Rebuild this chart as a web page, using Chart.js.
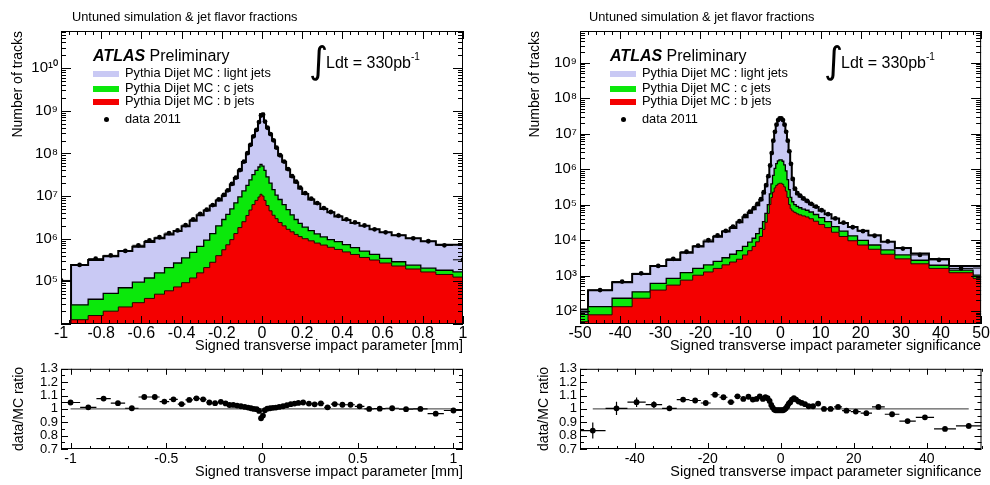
<!DOCTYPE html>
<html>
<head>
<meta charset="utf-8">
<script src="https://cdn.jsdelivr.net/npm/chart.js@4.4.1/dist/chart.umd.min.js"></script>
<style>
  html, body { margin: 0; padding: 0; background: #fff; }
  body { width: 990px; height: 485px; position: relative; overflow: hidden;
         font-family: "Liberation Sans", Arial, Helvetica, sans-serif; color: #000; }
  canvas { position: absolute; }
  .t { position: absolute; white-space: nowrap; line-height: 1; }
  .sw { position: absolute; width: 26px; height: 6px; }
  .dot { position: absolute; width: 5px; height: 5px; border-radius: 50%; background: #000; }
</style>
</head>
<body>
<canvas id="ipMain" width="490" height="358" style="left:0;top:0;width:490px;height:358px"></canvas>
<canvas id="ipRatio" width="490" height="127" style="left:0;top:358px;width:490px;height:127px"></canvas>
<canvas id="sigMain" width="470" height="358" style="left:520px;top:0;width:470px;height:358px"></canvas>
<canvas id="sigRatio" width="470" height="127" style="left:520px;top:358px;width:470px;height:127px"></canvas>
<div id="overlay"></div>
<script>
// ---------------- signed transverse impact parameter d0 [mm] ----------------
const ipEdges = [-1.05, -0.95, -0.865, -0.79, -0.715, -0.645, -0.585, -0.535, -0.485, -0.44, -0.40,
  -0.36, -0.325, -0.29, -0.26, -0.23, -0.20, -0.18, -0.16, -0.14, -0.12, -0.10, -0.08, -0.065,
  -0.05, -0.035, -0.02, -0.01, 0, 0.01, 0.02, 0.035, 0.05, 0.065, 0.08, 0.10, 0.12, 0.14, 0.16,
  0.18, 0.20, 0.23, 0.26, 0.29, 0.325, 0.36, 0.40, 0.44, 0.485, 0.535, 0.585, 0.645, 0.715, 0.79,
  0.865, 0.95, 1.05];

const ipBJets = [null, 1.26e4, 1.58e4, 2.0e4, 2.51e4, 3.16e4, 3.98e4, 5.0e4, 6.0e4, 7.4e4, 9.3e4,
  1.2e5, 1.58e5, 2.1e5, 2.8e5, 4.0e5, 5.5e5, 7.2e5, 9.5e5, 1.32e6, 1.82e6, 2.5e6, 3.5e6, 4.7e6,
  6.3e6, 7.9e6, 9.5e6, 1.1e7, 1.0e7, 7.9e6, 6.0e6, 4.5e6, 3.55e6, 2.95e6, 2.4e6, 2.0e6, 1.66e6,
  1.45e6, 1.26e6, 1.12e6, 1.0e6, 8.9e5, 7.9e5, 7.1e5, 6.3e5, 5.6e5, 4.9e5, 4.27e5, 3.63e5, 3.16e5,
  2.69e5, 2.29e5, 1.95e5, 1.66e5, 1.45e5, 1.26e5];

const ipCJets = [null, 1.56e4, 2.22e4, 3.25e4, 4.57e4, 6.39e4, 8.0e4, 1.08e5, 1.49e5, 1.95e5, 2.62e5,
  3.6e5, 5.0e5, 7.2e5, 1.04e6, 1.6e6, 2.27e6, 3.0e6, 4.05e6, 5.6e6, 7.7e6, 1.07e7, 1.43e7, 1.93e7,
  2.53e7, 3.19e7, 3.84e7, 4.4e7, 4.0e7, 3.19e7, 2.22e7, 1.55e7, 1.06e7, 7.5e6, 5.9e6, 4.3e6, 3.13e6,
  2.18e6, 1.56e6, 1.17e6, 8.6e5, 6.6e5, 5.0e5, 3.9e5, 3.2e5, 2.9e5, 2.34e5, 1.9e5, 1.5e5, 1.11e5,
  7.8e4, 5.9e4, 4.5e4, 3.8e4, 3.7e4, 4.0e4];

const ipLightJets = [null, 2.12e5, 2.78e5, 3.37e5, 4.42e5, 5.5e5, 7.12e5, 8.6e5, 1.05e6, 1.24e6, 1.6e6,
  2.15e6, 2.89e6, 3.64e6, 4.57e6, 5.9e6, 7.4e6, 9.5e6, 1.36e7, 1.94e7, 3.0e7, 5.0e7, 8.2e7, 1.34e8,
  2.19e8, 3.15e8, 5.0e8, 7.77e8, 8.0e8, 5.22e8, 3.7e8, 2.62e8, 1.86e8, 1.24e8, 8.1e7, 5.7e7, 3.7e7,
  2.46e7, 1.8e7, 1.28e7, 9.3e6, 6.8e6, 5.3e6, 3.9e6, 3.2e6, 2.46e6, 2.03e6, 1.72e6, 1.49e6, 1.23e6,
  1.06e6, 9.1e5, 7.8e5, 6.67e5, 5.42e5, 5.58e5];

const ipData = [1.05e5, 2.43e5, 3.4e5, 4.06e5, 5.16e5, 7.0e5, 9.1e5, 1.08e6, 1.35e6, 1.56e6, 2.08e6,
  2.84e6, 3.8e6, 4.79e6, 6.14e6, 8.36e6, 1.06e7, 1.36e7, 1.92e7, 2.7e7, 4.06e7, 6.4e7, 1.01e8, 1.59e8,
  2.51e8, 3.54e8, 5.42e8, 7.74e8, 8.08e8, 5.56e8, 3.99e8, 2.83e8, 2.02e8, 1.36e8, 9.04e7, 6.44e7,
  4.29e7, 2.92e7, 2.17e7, 1.58e7, 1.17e7, 8.65e6, 6.83e6, 5.22e6, 4.22e6, 3.43e6, 2.84e6, 2.41e6,
  2.04e6, 1.66e6, 1.41e6, 1.21e6, 1.02e6, 8.71e5, 6.98e5, 3.2e5];

const ipRatio = [1.048, 1.012, 1.077, 1.043, 1.005, 1.089, 1.089, 1.055, 1.072, 1.036, 1.067, 1.079,
  1.072, 1.048, 1.043, 1.053, 1.041, 1.029, 1.03, 1.025, 1.02, 1.015, 1.01, 1.005, 1.0, 0.998, 0.985,
  0.93, 0.95, 0.99, 1.002, 1.005, 1.008, 1.01, 1.015, 1.02, 1.028, 1.035, 1.04, 1.045, 1.048, 1.04,
  1.034, 1.041, 1.012, 1.036, 1.031, 1.031, 1.019, 1.0, 1.002, 1.005, 0.998, 1.0, 0.964, 0.988];

// ---------------- signed transverse impact parameter significance ----------------
const sigEdges = [-55, -48, -42, -37, -32.5, -28.5, -25, -21.9, -19.2, -16.8, -14.6, -12.7, -11,
  -9.5, -8.2, -7.1, -6.2, -5.3, -4.5, -3.9, -3.3, -2.8, -2.4, -2.0, -1.6, -1.2, -0.8, -0.4, 0,
  0.4, 0.8, 1.2, 1.6, 2.0, 2.4, 2.8, 3.3, 3.9, 4.5, 5.3, 6.2, 7.1, 8.2, 9.5, 11, 12.7, 14.6, 16.8,
  19.2, 21.9, 25, 28.5, 32.5, 37, 42, 48, 55];

const sigBJets = [50, 78, 132, 229, 389, 537, 741, 1020, 1260, 1585, 2000, 2400, 2880, 3800, 5010,
  6610, 8910, 12600, 19950, 31600, 56200, 1.0e5, 1.585e5, 2.24e5, 2.95e5, 3.47e5, 3.8e5, 3.98e5,
  3.98e5, 3.72e5, 3.16e5, 2.4e5, 1.585e5, 1.0e5, 7.59e4, 6.61e4, 6.03e4, 5.5e4, 5.13e4, 4.79e4,
  4.47e4, 3.98e4, 3.39e4, 2.75e4, 2.24e4, 1.66e4, 1.26e4, 9550, 7240, 5500, 3980, 2950, 2140, 1585,
  1200, 832];

const sigCJets = [30, 54, 97, 118, 214, 295, 461, 565, 735, 927, 1170, 1580, 2130, 2800, 3700, 4610,
  6230, 8790, 13160, 24600, 43800, 1.0e5, 2.22e5, 4.37e5, 7.52e5, 1.07e6, 1.32e6, 1.42e6, 1.42e6,
  1.29e6, 1.0e6, 6.51e5, 3.43e5, 1.63e5, 8.26e4, 5.41e4, 3.97e4, 3.41e4, 3.0e4, 2.62e4, 2.45e4,
  2.19e4, 1.86e4, 1.52e4, 1.07e4, 7400, 5200, 3630, 2530, 1740, 1270, 850, 550, 365, 213, 191];

const sigLightJets = [30, 255, 415, 765, 1250, 1925, 3200, 5040, 7050, 9900, 14150, 17950, 26500,
  37300, 50300, 62700, 80600, 1.1e5, 1.729e5, 2.723e5, 4.953e5, 1.02e6, 2.41e6, 5.68e6, 1.03e7,
  1.65e7, 2.25e7, 2.54e7, 2.54e7, 2.25e7, 1.655e7, 1.03e7, 5.69e6, 2.78e6, 1.19e6, 3.7e5, 1.61e5,
  1.06e5, 8.72e4, 6.74e4, 5.24e4, 4.1e4, 3.29e4, 2.38e4, 2.06e4, 1.67e4, 1.26e4, 1.0e4, 8370, 6380,
  3730, 2190, 1490, 989, 452, 835];

const sigData = [92, 389, 676, 1150, 1860, 2950, 4680, 6920, 10000, 13500, 18200, 24000, 33900,
  47900, 63100, 79400, 104700, 141300, 223900, 354800, 631000, 1.26e6, 2.82e6, 6.31e6, 1.12e7,
  1.78e7, 2.4e7, 2.69e7, 2.69e7, 2.4e7, 1.78e7, 1.12e7, 6.31e6, 3.16e6, 1.41e6, 5.25e5, 2.82e5,
  2.09e5, 1.78e5, 1.48e5, 1.26e5, 1.05e5, 8.71e4, 6.92e4, 5.37e4, 4.07e4, 3.09e4, 2.29e4, 1.78e4,
  1.32e4, 9120, 5750, 3800, 2750, 1585, 1620];

const sigRatio = [0.838, 1.004, 1.05, 1.032, 1.004, 1.07, 1.063, 1.044, 1.106, 1.087, 1.051, 1.094,
  1.075, 1.091, 1.07, 1.075, 1.094, 1.075, 1.087, 1.08, 1.06, 1.03, 1.01, 0.995, 0.99, 0.99, 0.99,
  0.99, 0.99, 0.99, 0.995, 1.005, 1.02, 1.04, 1.05, 1.07, 1.08, 1.07, 1.055, 1.045, 1.035, 1.02,
  1.02, 1.04, 1.0, 1.0, 1.015, 0.987, 0.98, 0.968, 1.015, 0.96, 0.909, 0.937, 0.85, 0.873];

const sigRatioErr = [0.06, 0.05, 0.035, 0.025, 0.02, 0.015, 0.012, 0.01, 0.008, 0.007, 0.006, 0.006,
  0.005, 0.005, 0.005, 0.005, 0.005, 0.005, 0.005, 0.005, 0.005, 0.005, 0.005, 0.005, 0.005, 0.005,
  0.005, 0.005, 0.005, 0.005, 0.005, 0.005, 0.005, 0.005, 0.005, 0.005, 0.005, 0.005, 0.005, 0.005,
  0.005, 0.005, 0.005, 0.005, 0.005, 0.005, 0.005, 0.005, 0.005, 0.005, 0.006, 0.007, 0.008, 0.01,
  0.012, 0.02];

// ---------------- axis labels ----------------
const ipXTicks = [-1, -0.8, -0.6, -0.4, -0.2, 0, 0.2, 0.4, 0.6, 0.8, 1];
const ipRatioXTicks = [-1, -0.5, 0, 0.5, 1];
const sigXTicks = [-50, -40, -30, -20, -10, 0, 10, 20, 30, 40, 50];
const sigRatioXTicks = [-40, -20, 0, 20, 40];
const ipDecades = [5, 6, 7, 8, 9, 10];
const sigDecades = [2, 3, 4, 5, 6, 7, 8, 9];
const ratioYTicks = [0.7, 0.8, 0.9, 1, 1.1, 1.2, 1.3];

const flavours = [
  { label: 'Pythia Dijet MC : light jets', color: '#c9c9f4' },
  { label: 'Pythia Dijet MC : c jets',     color: '#0be80b' },
  { label: 'Pythia Dijet MC : b jets',     color: '#f40000' }
];
const dataLabel = 'data 2011';

// ---------------- helpers ----------------
Chart.defaults.font.family = '"Liberation Sans", Arial, Helvetica, sans-serif';
Chart.defaults.color = '#000';

const SUP = '⁰¹²³⁴⁵⁶⁷⁸⁹';
const sup = n => String(n).split('').map(d => SUP[+d]).join('');
const fmt = v => String(Math.round(v * 1000) / 1000);
const centres = e => e.slice(0, -1).map((lo, i) => (lo + e[i + 1]) / 2);
const addUp = (...s) => s[0].map((_, i) => s.some(a => a[i] == null) ? null : s.reduce((t, a) => t + a[i], 0));

// histogram outline: up from the baseline at the first filled bin, across every bin, back down at the end
function histOutline(edges, vals, base) {
  const first = vals.findIndex(v => v != null);
  const pts = [{ x: edges[first], y: base }];
  for (let i = first; i < vals.length; i++) pts.push({ x: edges[i], y: vals[i] });
  pts.push({ x: edges[vals.length], y: base });
  return pts;
}
// horizontal bin-width bars
function xBars(edges, vals) {
  const pts = [];
  vals.forEach((v, i) => pts.push({ x: edges[i], y: v }, { x: edges[i + 1], y: v }, { x: edges[i + 1], y: null }));
  return pts;
}
// vertical error bars
function yBars(xs, vals, errs) {
  const pts = [];
  vals.forEach((v, i) => pts.push({ x: xs[i], y: v - errs[i] }, { x: xs[i], y: v + errs[i] }, { x: xs[i], y: null }));
  return pts;
}

function logTicks(min, max) {
  const major = [], minor = [];
  for (let e = Math.floor(Math.log10(min)); e <= Math.ceil(Math.log10(max)); e++) {
    for (let k = 1; k < 10; k++) {
      const v = k * Math.pow(10, e);
      if (v < min || v > max) continue;
      (k === 1 ? major : minor).push(v);
    }
  }
  return { major, minor };
}
function linTicks(min, max, step, sub) {
  const major = [], minor = [], s = step / sub;
  for (let i = Math.ceil(min / s - 1e-9); i <= Math.floor(max / s + 1e-9); i++) {
    (Math.abs(i % sub) === 0 ? major : minor).push(i * s);
  }
  return { major, minor };
}

// frame with inward ticks on all four sides
const tickSpec = {};
const frameTicks = {
  id: 'frameTicks',
  afterDatasetsDraw(chart) {
    const spec = tickSpec[chart.canvas.id];
    if (!spec) return;
    const { ctx, chartArea: a } = chart;
    const xs = chart.scales.x, ys = chart.scales.y;
    ctx.save();
    ctx.strokeStyle = '#000';
    ctx.lineWidth = 1;
    ctx.beginPath();
    const tx = (vals, len) => vals.forEach(v => {
      const p = Math.round(xs.getPixelForValue(v)) + 0.5;
      ctx.moveTo(p, a.bottom); ctx.lineTo(p, a.bottom - len);
      ctx.moveTo(p, a.top); ctx.lineTo(p, a.top + len);
    });
    const ty = (vals, len) => vals.forEach(v => {
      const p = Math.round(ys.getPixelForValue(v)) + 0.5;
      ctx.moveTo(a.left, p); ctx.lineTo(a.left + len, p);
      ctx.moveTo(a.right, p); ctx.lineTo(a.right - len, p);
    });
    tx(spec.x.major, spec.xLen[0]); tx(spec.x.minor, spec.xLen[1]);
    ty(spec.y.major, spec.yLen[0]); ty(spec.y.minor, spec.yLen[1]);
    ctx.stroke();
    ctx.strokeRect(a.left + 0.5, a.top + 0.5, a.right - a.left - 1, a.bottom - a.top - 1);
    ctx.restore();
  }
};
Chart.register(frameTicks);

const common = {
  responsive: false, animation: false, events: [], devicePixelRatio: 1,
  plugins: { legend: { display: false }, tooltip: { enabled: false } }
};

function mainChart(id, edges, light, cj, bj, data, xr, yr, xTicks, decades, xTitle, lay) {
  const mid = centres(edges);
  const bc = addUp(bj, cj), all = addUp(bj, cj, light);
  tickSpec[id] = { x: linTicks(xr[0], xr[1], lay.xStep, 5), y: logTicks(yr[0], yr[1]), xLen: [8, 4], yLen: [10, 5] };
  return new Chart(document.getElementById(id), {
    type: 'line',
    data: {
      datasets: [
        { label: dataLabel, data: data.map((v, i) => ({ x: mid[i], y: v })), showLine: false,
          pointRadius: 2.4, pointBackgroundColor: '#000', pointBorderWidth: 0 },
        { data: xBars(edges, data), borderColor: '#000', borderWidth: 1, pointRadius: 0, spanGaps: false },
        { label: flavours[2].label, data: histOutline(edges, bj, yr[0]), stepped: true, fill: 'start',
          backgroundColor: flavours[2].color, borderColor: '#2a0000', borderWidth: 1, pointRadius: 0 },
        { label: flavours[1].label, data: histOutline(edges, bc, yr[0]), stepped: true, fill: 'start',
          backgroundColor: flavours[1].color, borderColor: '#000', borderWidth: 1.3, pointRadius: 0 },
        { label: flavours[0].label, data: histOutline(edges, all, yr[0]), stepped: true, fill: 'start',
          backgroundColor: flavours[0].color, borderColor: '#000', borderWidth: 2, pointRadius: 0 }
      ]
    },
    options: Object.assign({}, common, {
      layout: { padding: { left: 0, right: lay.right, top: 31, bottom: 0 } },
      scales: {
        x: {
          type: 'linear', min: xr[0], max: xr[1],
          afterBuildTicks: s => { s.ticks = xTicks.map(v => ({ value: v })); },
          afterFit: s => { s.height = 34; },
          grid: { display: false, drawTicks: false }, border: { display: false },
          ticks: { autoSkip: false, maxRotation: 0, padding: 0, font: { size: 16 }, callback: v => fmt(v) },
          title: { display: true, text: xTitle, align: 'end', font: { size: 14.4 }, padding: { top: 0, bottom: 3.5 } }
        },
        y: {
          type: 'logarithmic', min: yr[0], max: yr[1],
          afterBuildTicks: s => { s.ticks = decades.map(e => ({ value: Math.pow(10, e) })); },
          afterFit: s => { s.width = lay.yAxis; },
          grid: { display: false, drawTicks: false }, border: { display: false },
          ticks: { autoSkip: false, padding: 3, font: { size: 15 },
                   callback: v => '10' + sup(Math.round(Math.log10(v))) },
          title: { display: true, text: 'Number of tracks', align: 'end', font: { size: 14 },
                   padding: { top: lay.yTitle, bottom: 0 } }
        }
      }
    })
  });
}

function ratioChart(id, edges, ratio, errs, xTicks, xTitle, lay) {
  const mid = centres(edges);
  const xr = [edges[0], edges[edges.length - 1]];
  tickSpec[id] = { x: linTicks(xr[0], xr[1], lay.xStep, lay.xSub), y: linTicks(0.7, 1.3, 0.1, 2), xLen: [6, 3], yLen: [7, 4] };
  const bars = xBars(edges, ratio).concat(errs ? yBars(mid, ratio, errs) : []);
  return new Chart(document.getElementById(id), {
    type: 'line',
    data: {
      datasets: [
        { data: ratio.map((v, i) => ({ x: mid[i], y: v })), showLine: false,
          pointRadius: 2.9, pointBackgroundColor: '#000', pointBorderWidth: 0 },
        { data: bars, borderColor: '#000', borderWidth: 1.2, pointRadius: 0, spanGaps: false },
        { data: [{ x: mid[0], y: 1 }, { x: mid[mid.length - 1], y: 1 }], borderColor: '#333',
          borderWidth: 1, pointRadius: 0 }
      ]
    },
    options: Object.assign({}, common, {
      layout: { padding: { left: 0, right: lay.right, top: 7, bottom: 0 } },
      scales: {
        x: {
          type: 'linear', min: xr[0], max: xr[1],
          afterBuildTicks: s => { s.ticks = xTicks.map(v => ({ value: v })); },
          afterFit: s => { s.height = 36; },
          grid: { display: false, drawTicks: false }, border: { display: false },
          ticks: { autoSkip: false, maxRotation: 0, padding: 1.5, font: { size: 14 }, callback: v => fmt(v) },
          title: { display: true, text: xTitle, align: 'end', font: { size: 14.4 }, padding: { top: 0, bottom: 4.6 } }
        },
        y: {
          type: 'linear', min: 0.7, max: 1.3,
          afterBuildTicks: s => { s.ticks = ratioYTicks.map(v => ({ value: v })); },
          afterFit: s => { s.width = lay.yAxis; },
          grid: { display: false, drawTicks: false }, border: { display: false },
          ticks: { autoSkip: false, padding: 3, font: { size: 13 }, callback: v => fmt(v) },
          title: { display: true, text: 'data/MC ratio', align: 'center', font: { size: 14 },
                   padding: { top: lay.yTitle, bottom: 0 } }
        }
      }
    })
  });
}

const ipTitle = 'Signed transverse impact parameter [mm]';
const sigTitle = 'Signed transverse impact parameter significance';

mainChart('ipMain', ipEdges, ipLightJets, ipCJets, ipBJets, ipData, [-1, 1], [1e4, 7.4e10],
  ipXTicks, ipDecades, ipTitle, { right: 27, yAxis: 61, yTitle: 9.6, xStep: 0.2 });
ratioChart('ipRatio', ipEdges, ipRatio, null, ipRatioXTicks, ipTitle,
  { right: 27, yAxis: 61, yTitle: 11, xStep: 0.5, xSub: 5 });
mainChart('sigMain', sigEdges, sigLightJets, sigCJets, sigBJets, sigData, [-50, 50], [43, 7.8e9],
  sigXTicks, sigDecades, sigTitle, { right: 8.5, yAxis: 60, yTitle: 6.6, xStep: 10 });
ratioChart('sigRatio', sigEdges, sigRatio, sigRatioErr, sigRatioXTicks, sigTitle,
  { right: 8.5, yAxis: 60, yTitle: 16, xStep: 20, xSub: 4 });

// ---------------- text annotations and legends ----------------
const overlay = document.getElementById('overlay');
function put(html, left, top, style) {
  const d = document.createElement('div');
  d.className = 't';
  d.style.left = left + 'px';
  d.style.top = top + 'px';
  if (style) d.style.cssText += style;
  d.innerHTML = html;
  overlay.appendChild(d);
  return d;
}
function panelText(ax, intX) {
  put('Untuned simulation &amp; jet flavor fractions', ax - 21, 11, 'font-size:12.8px');
  put('<b><i>ATLAS</i></b> Preliminary', ax, 48, 'font-size:16px');
  const rows = [73.5, 88.5, 101.5];
  flavours.forEach((f, i) => {
    const s = document.createElement('div');
    s.className = 'sw';
    s.style.left = ax + 'px';
    s.style.top = (rows[i] - 3) + 'px';
    s.style.background = f.color;
    overlay.appendChild(s);
    put(f.label, ax + 32, rows[i] - 6.5, 'font-size:12.8px');
  });
  const dot = document.createElement('div');
  dot.className = 'dot';
  dot.style.left = (ax + 10.5) + 'px';
  dot.style.top = '116.5px';
  overlay.appendChild(dot);
  put(dataLabel, ax + 32, 112.5, 'font-size:12.8px');
  put('∫', intX, 42, 'font-size:37px;font-family:"DejaVu Sans"');
  put('Ldt = 330pb<span style="font-size:10px;position:relative;top:-8px">-1</span>', intX + 17, 55, 'font-size:16px');
}
panelText(93, 309);
panelText(610, 824);
</script>
</body>
</html>
